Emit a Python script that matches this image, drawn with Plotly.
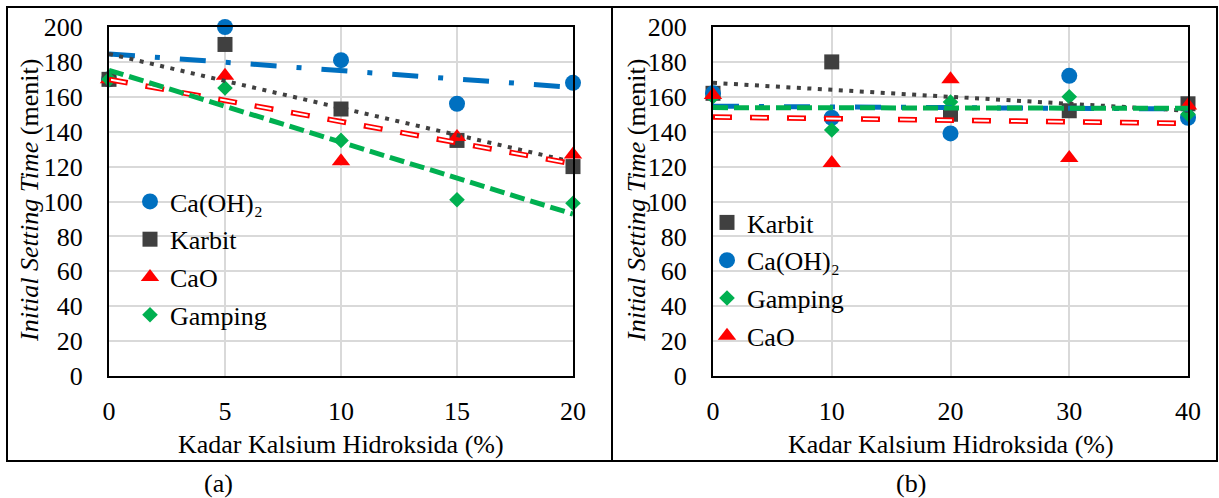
import numpy as np
import plotly.graph_objects as go

W, H = 1219, 498
FONT = "Liberation Serif, Times New Roman, Tinos, serif"

# ---------------- data: panel (a) ----------------
xa = [0, 5, 10, 15, 20]
a_caoh2 = [170, 200, 181, 156, 168]
a_karbit = [170, 190, 153, 135, 120]
a_cao = [170, 172, 123, 137, 127]
a_gamping = [170, 165, 135, 101, 99]

# ---------------- data: panel (b) ----------------
xb = [0, 10, 20, 30, 40]
b_karbit = [162, 180, 150, 152, 156]
b_caoh2 = [162, 148, 139, 172, 148]
b_gamping = [160, 141, 157, 160, 150]
b_cao = [161, 122, 170, 125, 155]

names = {"caoh2": "Ca(OH)₂", "karbit": "Karbit", "cao": "CaO", "gamping": "Gamping"}
colors = {"caoh2": "#0070C0", "karbit": "#404040", "cao": "#FF0000", "gamping": "#00B050"}
symbols = {"caoh2": "circle", "karbit": "square", "cao": "triangle-up", "gamping": "diamond"}
msize = {"caoh2": 16, "karbit": 15, "cao": 16, "gamping": 12}

fig = go.Figure()


def px_x(p):
    return p / W


def px_y(p):
    return 1 - p / H


def add_markers(key, x, y, xaxis, yaxis, legend):
    fig.add_trace(go.Scatter(
        x=x, y=y, mode="markers", name=names[key],
        marker=dict(symbol=symbols[key], size=msize[key], color=colors[key]),
        xaxis=xaxis, yaxis=yaxis, legend=legend, legendgroup=legend + key,
        cliponaxis=False, showlegend=True))


def add_trend(key, x, y, xaxis, yaxis):
    k, b = np.polyfit(x, y, 1)
    xs = [min(x), max(x)]
    ys = [k * v + b for v in xs]
    if key == "cao":
        fig.add_trace(go.Scatter(x=xs, y=ys, mode="lines", showlegend=False,
                                 line=dict(color=colors[key], width=5.5, dash="19px,18px"),
                                 xaxis=xaxis, yaxis=yaxis, hoverinfo="skip"))
        fig.add_trace(go.Scatter(x=xs, y=ys, mode="lines", showlegend=False,
                                 line=dict(color="white", width=2, dash="0px,2px,15px,20px"),
                                 xaxis=xaxis, yaxis=yaxis, hoverinfo="skip"))
        return
    style = {
        "caoh2": dict(width=5, dash="26px,20px,5px,20px"),
        "karbit": dict(width=4, dash="4px,6.5px"),
        "gamping": dict(width=5, dash="15px,6px"),
    }[key]
    fig.add_trace(go.Scatter(x=xs, y=ys, mode="lines", showlegend=False,
                             line=dict(color=colors[key], **style),
                             xaxis=xaxis, yaxis=yaxis, hoverinfo="skip"))


# panel (a)
series_a = [("caoh2", a_caoh2), ("karbit", a_karbit), ("cao", a_cao), ("gamping", a_gamping)]
for key, ys in series_a:
    add_markers(key, xa, ys, "x", "y", "legend")
for key, ys in series_a:
    add_trend(key, xa, ys, "x", "y")

# panel (b)
series_b = [("karbit", b_karbit), ("caoh2", b_caoh2), ("gamping", b_gamping), ("cao", b_cao)]
for key, ys in series_b:
    add_markers(key, xb, ys, "x2", "y2", "legend2")
for key, ys in series_b:
    add_trend(key, xb, ys, "x2", "y2")

axis_common = dict(showgrid=True, gridcolor="#D9D9D9", gridwidth=2, zeroline=False,
                   showline=True, linecolor="black", linewidth=2, mirror=True,
                   automargin=False,
                   ticks="", tickfont=dict(family=FONT, size=26, color="black"))

ydom = [px_y(376), px_y(27)]
fig.update_layout(
    width=W, height=H, paper_bgcolor="white", plot_bgcolor="white",
    margin=dict(l=0, r=0, t=0, b=0, pad=0, autoexpand=False),
    font=dict(family=FONT, size=26, color="black"),
    showlegend=True,
    xaxis=dict(domain=[px_x(109), px_x(573)], range=[0, 20], dtick=5, tick0=0,
               anchor="y", ticklabelstandoff=11, **axis_common),
    yaxis=dict(domain=ydom, range=[0, 200], dtick=20, tick0=0, anchor="x",
               ticklabelstandoff=19, **axis_common),
    xaxis2=dict(domain=[px_x(713), px_x(1188)], range=[0, 40], dtick=10, tick0=0,
                anchor="y2", ticklabelstandoff=11, **axis_common),
    yaxis2=dict(domain=ydom, range=[0, 200], dtick=20, tick0=0, anchor="x2",
                ticklabelstandoff=19, **axis_common),
    legend=dict(x=px_x(130), y=px_y(178), xanchor="left", yanchor="top",
                bgcolor="rgba(0,0,0,0)", borderwidth=0, tracegroupgap=1,
                font=dict(family=FONT, size=26, color="black")),
    legend2=dict(x=px_x(707), y=px_y(199), xanchor="left", yanchor="top",
                 bgcolor="rgba(0,0,0,0)", borderwidth=0, tracegroupgap=1,
                 font=dict(family=FONT, size=26, color="black")),
)

# outer frames of both panels
for x0, x1 in [(7, 612), (612, 1217)]:
    fig.add_shape(type="rect", xref="paper", yref="paper",
                  x0=px_x(x0), x1=px_x(x1), y0=px_y(461), y1=px_y(7),
                  line=dict(color="black", width=2), layer="above")

ann = []
for cx in (29, 636):
    ann.append(dict(text="<i>Initial Setting Time</i> (menit)", x=px_x(cx), y=px_y(201),
                    textangle=-90))
for cx in (341, 951):
    ann.append(dict(text="Kadar Kalsium Hidroksida (%)", x=px_x(cx), y=px_y(444)))
ann.append(dict(text="(a)", x=px_x(218), y=px_y(483)))
ann.append(dict(text="(b)", x=px_x(911), y=px_y(483)))
for a in ann:
    fig.add_annotation(xref="paper", yref="paper", showarrow=False,
                       xanchor="center", yanchor="middle",
                       font=dict(family=FONT, size=26, color="black"), **a)

fig.write_html("out.html", config={"displayModeBar": False},
               post_script="document.body.style.margin='0px';document.body.style.overflow='hidden';")
